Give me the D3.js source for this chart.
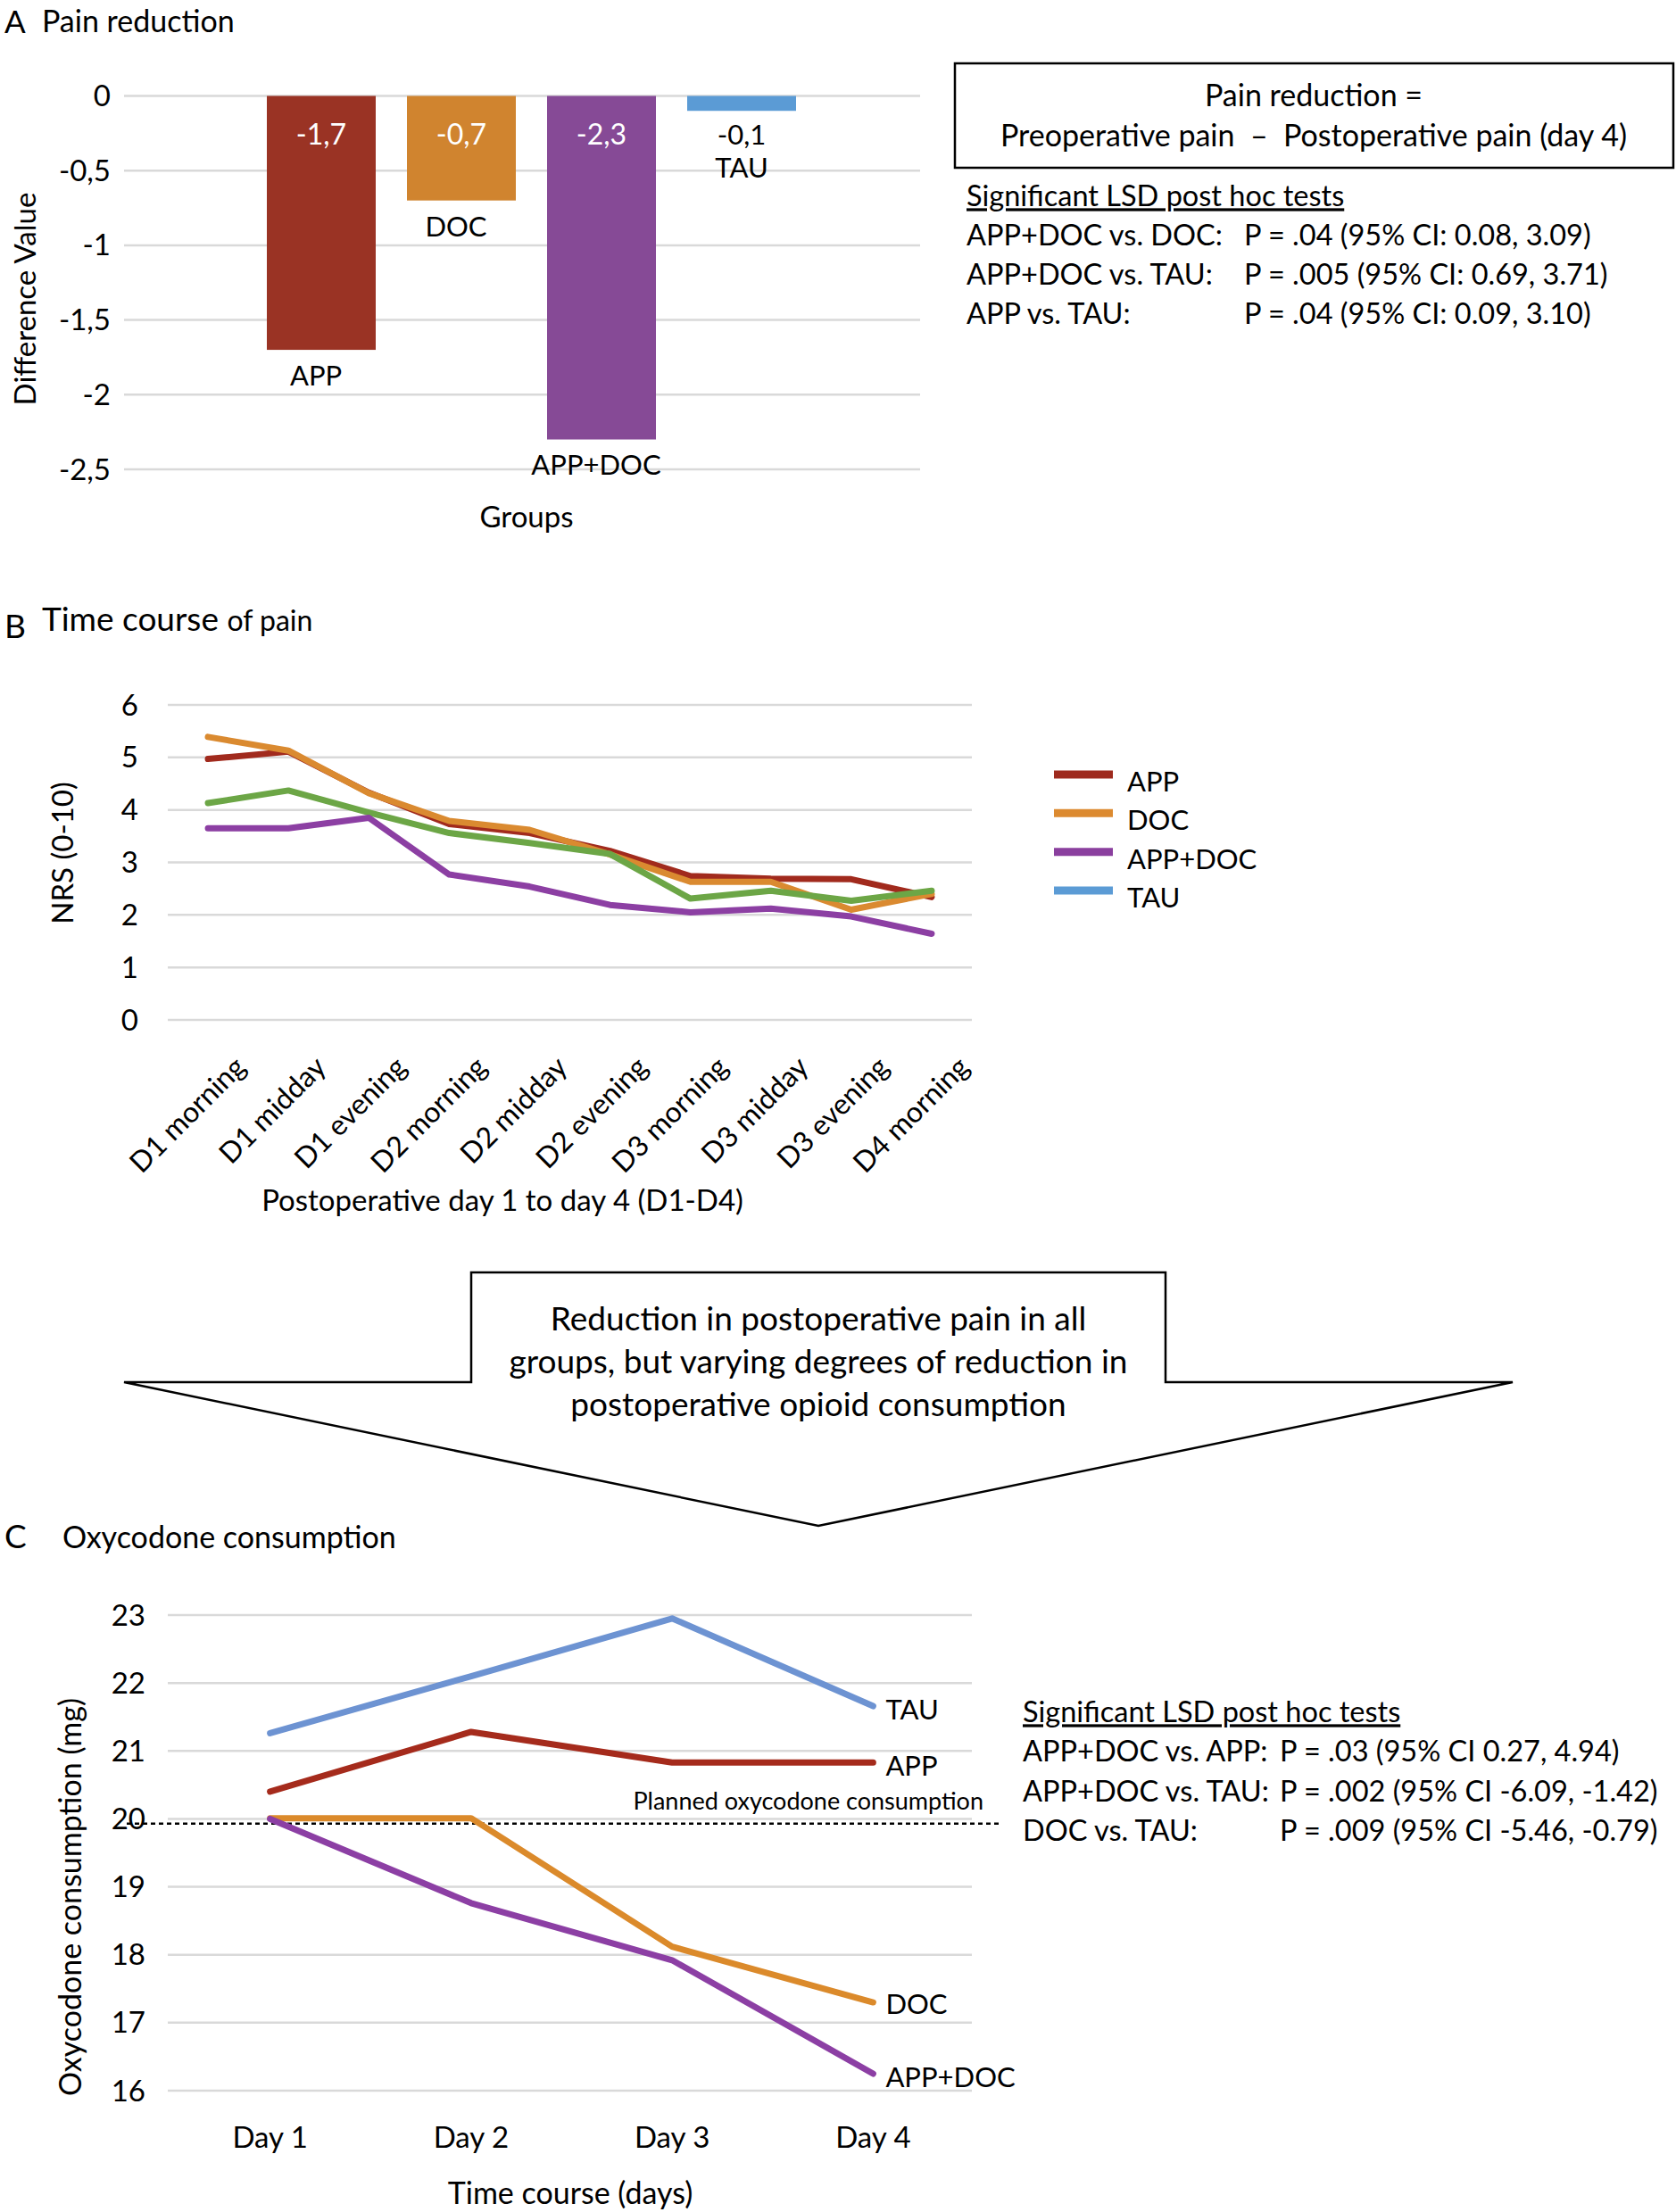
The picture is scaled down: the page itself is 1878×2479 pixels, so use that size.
<!DOCTYPE html>
<html>
<head>
<meta charset="utf-8">
<script src="https://cdn.jsdelivr.net/npm/d3@7"></script>
<style>
  html, body { margin: 0; padding: 0; background: #fff; }
  svg { display: block; font-family: Lato, "Open Sans", sans-serif; }
  text { fill: #000; }
</style>
</head>
<body>
<svg id="chart" width="1878" height="2479"></svg>
<script>
// ---------------- DATA ----------------
const groups = ["APP", "DOC", "APP+DOC", "TAU"];
const painReduction = [-1.7, -0.7, -2.3, -0.1];
const painReductionLabels = ["-1,7", "-0,7", "-2,3", "-0,1"];
const yTicksA = [0, -0.5, -1, -1.5, -2, -2.5];
const yTickLabelsA = ["0", "-0,5", "-1", "-1,5", "-2", "-2,5"];

const timePoints = ["D1 morning", "D1 midday", "D1 evening", "D2 morning", "D2 midday",
                    "D2 evening", "D3 morning", "D3 midday", "D3 evening", "D4 morning"];
const nrsAPP    = [4.97, 5.11, 4.33, 3.73, 3.56, 3.22, 2.74, 2.69, 2.68, 2.34];
const nrsDOC    = [5.39, 5.13, 4.32, 3.79, 3.62, 3.15, 2.63, 2.63, 2.10, 2.40];
const nrsAPPDOC = [3.65, 3.65, 3.85, 2.77, 2.54, 2.19, 2.05, 2.12, 1.97, 1.64];
const nrsTAU    = [4.13, 4.37, 3.95, 3.56, 3.37, 3.16, 2.31, 2.46, 2.27, 2.46];
const yTicksB = [0, 1, 2, 3, 4, 5, 6];

const days = ["Day 1", "Day 2", "Day 3", "Day 4"];
const oxyTAU    = [21.26, 22.10, 22.95, 21.66];
const oxyAPP    = [20.40, 21.28, 20.83, 20.83];
const oxyDOC    = [20.01, 20.01, 18.12, 17.30];
const oxyAPPDOC = [20.00, 18.76, 17.92, 16.25];
const plannedOxy = 19.93;
const yTicksC = [16, 17, 18, 19, 20, 21, 22, 23];

const statsA = [
  ["APP+DOC vs. DOC:", "P = .04 (95% CI: 0.08, 3.09)"],
  ["APP+DOC vs. TAU:", "P = .005 (95% CI: 0.69, 3.71)"],
  ["APP vs. TAU:",     "P = .04 (95% CI: 0.09, 3.10)"]
];
const statsC = [
  ["APP+DOC vs. APP:", "P = .03 (95% CI 0.27, 4.94)"],
  ["APP+DOC vs. TAU:", "P = .002 (95% CI -6.09, -1.42)"],
  ["DOC vs. TAU:",     "P = .009 (95% CI -5.46, -0.79)"]
];
const arrowText = ["Reduction in postoperative pain in all",
                   "groups, but varying degrees of reduction in",
                   "postoperative opioid consumption"];

// ---------------- STYLE ----------------
const barColors = {"APP": "#9a3324", "DOC": "#d0842f", "APP+DOC": "#864a96", "TAU": "#5b9bd5"};
const lineColorsB = {"APP": "#a12a1d", "DOC": "#da8a30", "APP+DOC": "#8c3fa3", "TAU": "#6ca646"};
const legendColorsB = {"APP": "#9e2a1e", "DOC": "#dc8a30", "APP+DOC": "#8a3f9e", "TAU": "#5b9bd5"};
const lineColorsC = {"APP": "#a52b1c", "DOC": "#db8a2b", "APP+DOC": "#8c3fa4", "TAU": "#6d93d2"};
const gridColor = "#d9d9d9";
const FS = 33;     // axis titles
const TS = 33;     // tick labels
const LS = 31;     // data / legend labels
const SS = 32.5;   // stats text

const svg = d3.select("#chart");

function txt(g, x, y, s, opts = {}) {
  const t = g.append("text").attr("x", x).attr("y", y).attr("dy", "0.35em")
    .attr("font-size", opts.size || FS)
    .attr("text-anchor", opts.anchor || "start")
    .text(s);
  if (opts.fill) t.style("fill", opts.fill);
  if (opts.weight) t.attr("font-weight", opts.weight);
  return t;
}

// ================= PANEL A =================
const gA = svg.append("g");
txt(gA, 5, 25, "A", {size: 35});
txt(gA, 47, 24, "Pain reduction", {size: 34});

const yA = d3.scaleLinear().domain([-2.5, 0]).range([526, 107.5]);
const xA = d3.scaleBand().domain(groups).range([281.5, 909.5]).paddingInner(0.223).paddingOuter(0.1115);

gA.append("g").selectAll("line").data(yTicksA).join("line")
  .attr("x1", 139).attr("x2", 1031)
  .attr("y1", d => yA(d)).attr("y2", d => yA(d))
  .attr("stroke", gridColor).attr("stroke-width", 2.5);

gA.append("g").selectAll("text").data(yTicksA).join("text")
  .attr("x", 124).attr("y", d => yA(d)).attr("dy", "0.35em")
  .attr("text-anchor", "end").attr("font-size", TS)
  .text((d, i) => yTickLabelsA[i]);

const barData = groups.map((g, i) => ({g, v: painReduction[i], lab: painReductionLabels[i]}));
gA.append("g").selectAll("rect").data(barData).join("rect")
  .attr("x", d => xA(d.g)).attr("width", xA.bandwidth())
  .attr("y", yA(0)).attr("height", d => yA(d.v) - yA(0))
  .attr("fill", d => barColors[d.g]);

barData.forEach(d => {
  const cx = xA(d.g) + xA.bandwidth() / 2;
  const inside = Math.abs(d.v) > 0.3;
  if (inside) {
    txt(gA, cx, yA(0) + 43, d.lab, {anchor: "middle", fill: "#fff", size: 32});
    txt(gA, cx - 6, yA(d.v) + 29, d.g, {anchor: "middle", size: LS});
  } else {
    txt(gA, cx, yA(d.v) + 27, d.lab, {anchor: "middle", size: LS});
    txt(gA, cx, yA(d.v) + 64, d.g, {anchor: "middle", size: LS});
  }
});

gA.append("text").attr("transform", "translate(28,335) rotate(-90)")
  .attr("dy", "0.35em").attr("text-anchor", "middle").attr("font-size", FS)
  .text("Difference Value");
txt(gA, 590, 579, "Groups", {anchor: "middle"});

// formula box
gA.append("rect").attr("x", 1070).attr("y", 71).attr("width", 805).attr("height", 117)
  .attr("fill", "none").attr("stroke", "#000").attr("stroke-width", 2.5);
txt(gA, 1472, 107, "Pain reduction =", {anchor: "middle", size: 34});
txt(gA, 1472, 152, "Preoperative pain  \u2013  Postoperative pain (day 4)", {anchor: "middle", size: 34}).style("white-space", "pre");

txt(gA, 1083, 220, "Significant LSD post hoc tests", {size: SS}).style("text-decoration", "underline");
statsA.forEach((r, i) => {
  txt(gA, 1083, 264 + i * 44, r[0], {size: SS});
  txt(gA, 1394, 264 + i * 44, r[1], {size: SS});
});

// ================= PANEL B =================
const gB = svg.append("g");
txt(gB, 5, 702, "B", {size: 37});
const tB = gB.append("text").attr("x", 47).attr("y", 701).attr("dy", "0.35em");
tB.append("tspan").attr("font-size", 37).text("Time course ");
tB.append("tspan").attr("font-size", 32).text("of pain");

const xB = d3.scalePoint().domain(timePoints).range([188, 1089]).padding(0.5);
const yB = d3.scaleLinear().domain([0, 6]).range([1143, 790]);

gB.append("g").selectAll("line").data(yTicksB).join("line")
  .attr("x1", 188).attr("x2", 1089)
  .attr("y1", d => yB(d)).attr("y2", d => yB(d))
  .attr("stroke", gridColor).attr("stroke-width", 2.5);
gB.append("g").selectAll("text").data(yTicksB).join("text")
  .attr("x", 155).attr("y", d => yB(d)).attr("dy", "0.35em")
  .attr("text-anchor", "end").attr("font-size", TS).text(d => d);

gB.append("g").selectAll("text").data(timePoints).join("text")
  .attr("transform", d => `translate(${xB(d) + 36},${1190}) rotate(-45)`)
  .attr("dy", "0.35em").attr("text-anchor", "end").attr("font-size", 32).text(d => d);

const seriesB = [
  {k: "APP", v: nrsAPP}, {k: "DOC", v: nrsDOC}, {k: "TAU", v: nrsTAU}, {k: "APP+DOC", v: nrsAPPDOC}
];
const lineB = d3.line().x((d, i) => xB(timePoints[i])).y(d => yB(d));
gB.append("g").selectAll("path").data(seriesB).join("path")
  .attr("d", d => lineB(d.v)).attr("fill", "none")
  .attr("stroke", d => lineColorsB[d.k]).attr("stroke-width", 7)
  .attr("stroke-linejoin", "round").attr("stroke-linecap", "round");

gB.append("text").attr("transform", "translate(70,956) rotate(-90)")
  .attr("dy", "0.35em").attr("text-anchor", "middle").attr("font-size", FS)
  .text("NRS (0-10)");
txt(gB, 563, 1345, "Postoperative day 1 to day 4 (D1-D4)", {anchor: "middle"});

// legend
const legY = d3.scalePoint().domain(groups).range([868, 998]);
const leg = gB.append("g").selectAll("g").data(groups).join("g");
leg.append("line").attr("x1", 1181).attr("x2", 1247)
  .attr("y1", d => legY(d)).attr("y2", d => legY(d))
  .attr("stroke", d => legendColorsB[d]).attr("stroke-width", 9);
leg.append("text").attr("x", 1263).attr("y", d => legY(d) + 8).attr("dy", "0.35em")
  .attr("font-size", LS).text(d => d);

// ================= ARROW =================
const gArrow = svg.append("g");
gArrow.append("polygon")
  .attr("points", [[528,1426],[1306,1426],[1306,1549],[1695,1549],[917,1710],[139,1549],[528,1549]].map(p => p.join(",")).join(" "))
  .attr("fill", "#fff").attr("stroke", "#000").attr("stroke-width", 2.5);
arrowText.forEach((s, i) => txt(gArrow, 917, 1478 + i * 48, s, {anchor: "middle", size: 37}));

// ================= PANEL C =================
const gC = svg.append("g");
txt(gC, 5, 1722, "C", {size: 37});
txt(gC, 70, 1723, "Oxycodone consumption", {size: 34});

const xC = d3.scalePoint().domain(days).range([190, 1091]).padding(0.5);
const yC = d3.scaleLinear().domain([16, 23]).range([2343, 1810]);

gC.append("g").selectAll("line").data(yTicksC).join("line")
  .attr("x1", 188).attr("x2", 1089)
  .attr("y1", d => yC(d)).attr("y2", d => yC(d))
  .attr("stroke", gridColor).attr("stroke-width", 2.5);
gC.append("g").selectAll("text").data(yTicksC).join("text")
  .attr("x", 163).attr("y", d => yC(d)).attr("dy", "0.35em")
  .attr("text-anchor", "end").attr("font-size", TS).text(d => d);
gC.append("g").selectAll("text").data(days).join("text")
  .attr("x", d => xC(d)).attr("y", 2395).attr("dy", "0.35em")
  .attr("text-anchor", "middle").attr("font-size", FS).text(d => d);

// planned dashed line
gC.append("line").attr("x1", 142).attr("x2", 1122)
  .attr("y1", yC(plannedOxy)).attr("y2", yC(plannedOxy))
  .attr("stroke", "#000").attr("stroke-width", 2.5).attr("stroke-dasharray", "5,4");
txt(gC, 1102, yC(plannedOxy) - 25, "Planned oxycodone consumption", {anchor: "end", size: 27});

const seriesC = [
  {k: "TAU", v: oxyTAU}, {k: "APP", v: oxyAPP}, {k: "DOC", v: oxyDOC}, {k: "APP+DOC", v: oxyAPPDOC}
];
const lineC = d3.line().x((d, i) => xC(days[i])).y(d => yC(d));
gC.append("g").selectAll("path").data(seriesC).join("path")
  .attr("d", d => lineC(d.v)).attr("fill", "none")
  .attr("stroke", d => lineColorsC[d.k]).attr("stroke-width", 7)
  .attr("stroke-linejoin", "round").attr("stroke-linecap", "round");

const endLabelOffset = {"TAU": 4, "APP": 4, "DOC": 2, "APP+DOC": 4};
seriesC.forEach(s => {
  txt(gC, xC(days[3]) + 14, yC(s.v[3]) + endLabelOffset[s.k], s.k, {size: LS});
});

gC.append("text").attr("transform", "translate(79,2126) rotate(-90)")
  .attr("dy", "0.35em").attr("text-anchor", "middle").attr("font-size", 34)
  .text("Oxycodone consumption (mg)");
txt(gC, 639, 2458, "Time course (days)", {anchor: "middle", size: 34});

txt(gC, 1146, 1919, "Significant LSD post hoc tests", {size: SS}).style("text-decoration", "underline");
statsC.forEach((r, i) => {
  txt(gC, 1146, 1963 + i * 44.5, r[0], {size: SS});
  txt(gC, 1434, 1963 + i * 44.5, r[1], {size: SS});
});
</script>
</body>
</html>
